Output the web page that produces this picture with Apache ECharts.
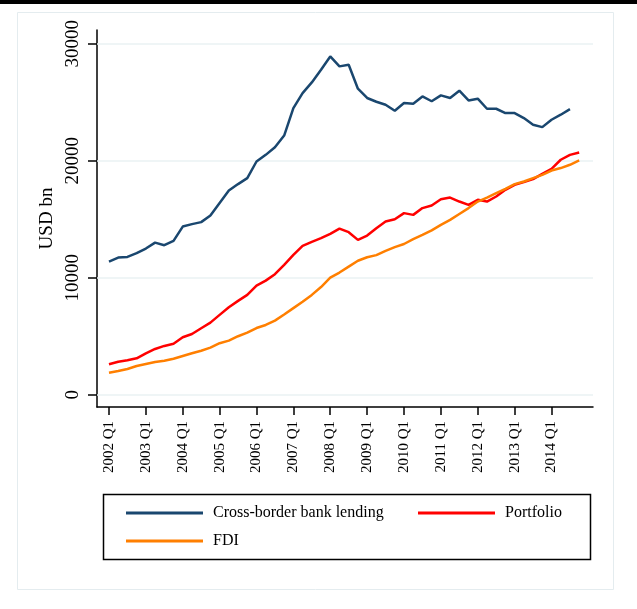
<!DOCTYPE html>
<html><head><meta charset="utf-8">
<script src="https://cdn.jsdelivr.net/npm/echarts@6/dist/echarts.min.js"></script>
<style>html,body{margin:0;padding:0;background:#fff}#c{width:637px;height:609px}</style>
</head><body><div id="c"></div>
<script>
const startYear = 2002;
const quarters = [];
for (let i = 0; i < 52; i++) quarters.push((startYear + Math.floor(i / 4)) + ' Q' + (i % 4 + 1));
const tickLabels = ['2002 Q1','2003 Q1','2004 Q1','2005 Q1','2006 Q1','2007 Q1','2008 Q1','2009 Q1','2010 Q1','2011 Q1','2012 Q1','2013 Q1','2014 Q1'];
const yTicks = [0, 10000, 20000, 30000];
const seriesNames = ['Cross-border bank lending', 'Portfolio', 'FDI'];

const bankLending = [11380,11720,11780,12100,12490,13000,12780,13150,14370,14580,
  14750,15310,16390,17450,18000,18510,19930,20500,21150,22150,
  24500,25780,26690,27780,28910,28060,28200,26150,25360,25040,
  24780,24270,24930,24870,25490,25080,25580,25355,25980,25150,
  25300,24440,24440,24070,24070,23640,23070,22870,23500,23930,24410];
const portfolio = [2600,2820,2940,3110,3540,3910,4170,4360,4910,5190,
  5680,6160,6820,7480,8020,8530,9320,9750,10300,11100,
  11950,12720,13060,13380,13750,14200,13890,13230,13600,14230,
  14800,15000,15520,15370,15950,16170,16700,16850,16510,16230,
  16660,16510,16940,17510,17940,18170,18430,18880,19310,20080,20500,20700];
const fdi = [1880,2030,2200,2450,2630,2800,2910,3080,3310,3540,
  3760,4020,4400,4620,5000,5300,5700,5960,6330,6850,
  7400,7950,8530,9200,10000,10440,10950,11450,11750,11930,
  12290,12610,12880,13290,13660,14050,14520,14940,15450,15950,
  16510,16850,17230,17600,18000,18220,18510,18790,19160,19370,19650,20020];

const colors = ['#1a476f', '#ff0000', '#ff7f00'];
const font = 'Liberation Serif';
const tickValues = tickLabels.map(l => quarters.indexOf(l));
const toPairs = arr => arr.map((v, i) => [i, v]);
const seriesData = [bankLending, portfolio, fdi];

const chart = echarts.init(document.getElementById('c'), null, {renderer: 'canvas'});
const legendBase = {
  padding: 0, itemWidth: 77, itemHeight: 3, icon: 'rect', selectedMode: false,
  textStyle: {fontFamily: font, fontSize: 16, color: '#000', padding: [0, 0, 0, 5]}
};
chart.setOption({
  animation: false,
  backgroundColor: '#fff',
  grid: {left: 97, right: 44, top: 30, bottom: 202, containLabel: false},
  xAxis: {
    type: 'value', min: -1.3, max: 52.5,
    axisLine: {show: true, onZero: false, lineStyle: {color: '#000', width: 1.5}},
    axisTick: {show: true, customValues: tickValues, length: 8, lineStyle: {color: '#000', width: 1.5}},
    axisLabel: {customValues: tickValues, rotate: 90, margin: 14, formatter: v => quarters[v],
      fontFamily: font, fontSize: 15, color: '#000'},
    splitLine: {show: false}
  },
  yAxis: {
    type: 'value', min: -1050, max: 31170,
    name: 'USD bn', nameLocation: 'middle', nameGap: 36,
    nameTextStyle: {fontFamily: font, fontSize: 19, color: '#000'},
    axisLine: {show: true, onZero: false, lineStyle: {color: '#000', width: 1.5}},
    axisTick: {show: true, customValues: yTicks, length: 9, lineStyle: {color: '#000', width: 1.5}},
    axisLabel: {customValues: yTicks, rotate: 90, margin: 14, formatter: v => String(v),
      fontFamily: font, fontSize: 19, color: '#000'},
    splitLine: {show: false}
  },
  legend: [
    Object.assign({data: [seriesNames[0]], left: 126, top: 505}, legendBase),
    Object.assign({data: [seriesNames[1]], left: 418, top: 505}, legendBase),
    Object.assign({data: [seriesNames[2]], left: 126, top: 533}, legendBase)
  ],
  graphic: [
    {type: 'rect', shape: {x: 0, y: 0, width: 637, height: 4}, style: {fill: '#000'}},
    {type: 'rect', shape: {x: 17.5, y: 12.5, width: 596, height: 577}, style: {fill: 'none', stroke: '#e4ecef', lineWidth: 1}},
    {type: 'rect', shape: {x: 103.5, y: 494.5, width: 487, height: 65}, style: {fill: 'none', stroke: '#000', lineWidth: 1.5}}
  ],
  series: [
    {type: 'line', name: '_grid', data: [], z: 1, silent: true,
      markLine: {silent: true, z: 1, symbol: 'none', label: {show: false},
        lineStyle: {color: '#eaf2f3', width: 1.5, type: 'solid'},
        data: yTicks.map(v => ({yAxis: v}))}}
  ].concat(seriesNames.map((n, i) => ({
    type: 'line', name: n, data: toPairs(seriesData[i]), showSymbol: false, symbol: 'none',
    color: colors[i], lineStyle: {color: colors[i], width: 2.5}, z: 3
  })))
});
</script></body></html>
